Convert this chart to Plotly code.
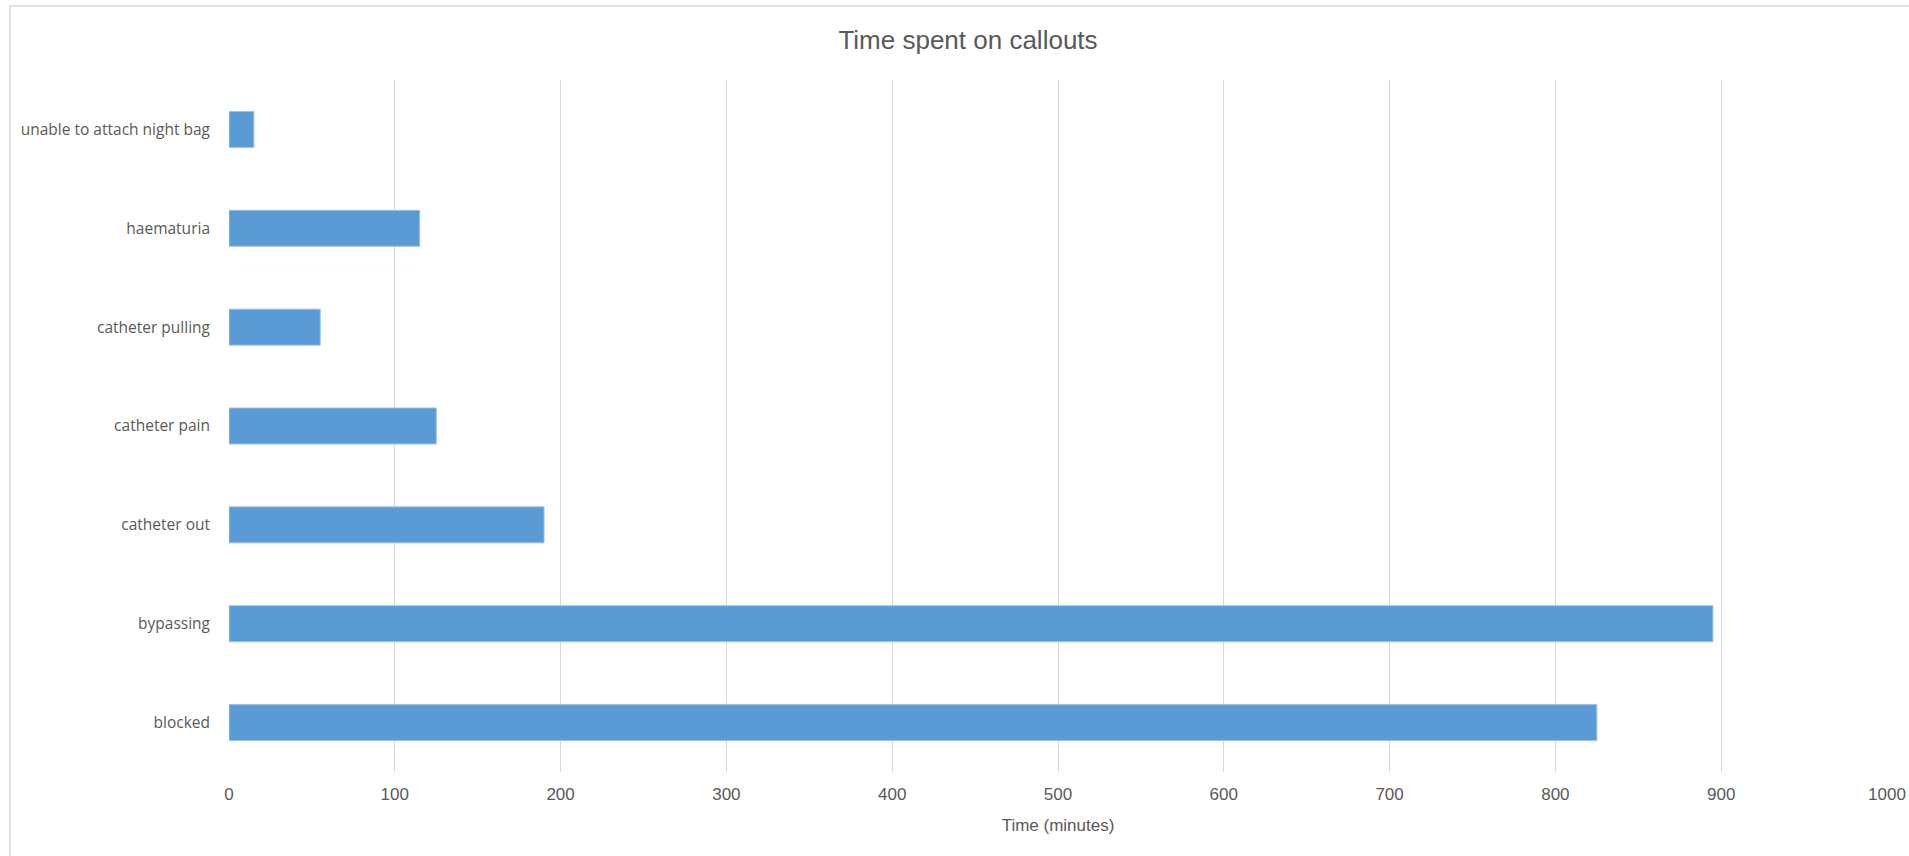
import plotly.graph_objects as go

categories = ["blocked", "bypassing", "catheter out", "catheter pain",
              "catheter pulling", "haematuria", "unable to attach night bag"]
minutes = [825, 895, 190, 125, 55, 115, 15]
x_ticks = [0, 100, 200, 300, 400, 500, 600, 700, 800, 900, 1000]

W, H = 1909, 856
L, R, T, B = 229, 22, 80, 84
pw, ph = W - L - R, H - T - B

NARROW = "Liberation Sans Narrow, Arial Narrow, Liberation Sans, sans-serif"

fig = go.Figure()
fig.add_trace(go.Bar(
    y=categories, x=minutes, orientation="h",
    marker=dict(color="#5b9bd5", line=dict(color="#9cc2e5", width=1)),
    hoverinfo="x+y",
))

fig.update_layout(
    width=W, height=H,
    margin=dict(l=L, r=R, t=T, b=B, autoexpand=False),
    paper_bgcolor="white", plot_bgcolor="white",
    bargap=0.636,
    showlegend=False,
    title=dict(text="Time spent on callouts", x=968 / W, xanchor="center",
               y=1 - 40 / H, yanchor="middle", yref="container",
               font=dict(family=NARROW, size=26, color="#595959")),
    xaxis=dict(range=[0, 1000], tickvals=x_ticks, ticktext=[str(v) for v in x_ticks],
               showgrid=True, gridcolor="#d9d9d9", gridwidth=1, zeroline=False,
               showline=False, ticks="", automargin=False, ticklabelstandoff=10,
               tickfont=dict(family=NARROW, size=17, color="#595959"),
               title=dict(text="Time (minutes)", standoff=16,
                          font=dict(family=NARROW, size=17, color="#595959"))),
    yaxis=dict(showgrid=False, zeroline=False, showline=False, ticks="", automargin=False,
               categoryorder="array", categoryarray=categories,
               tickfont=dict(family="Open Sans, sans-serif", size=15.5, color="#595959"),
               ticklabelstandoff=18),
    font=dict(family="Open Sans, sans-serif", color="#595959"),
)

# chart frame
fig.add_shape(type="rect", xref="paper", yref="paper",
              x0=(10 - L) / pw, x1=(W + 20 - L) / pw,
              y0=-(H + 20 - T - ph) / ph, y1=1 + (T - 6) / ph,
              line=dict(color="#d9d9d9", width=1.5), layer="below")

fig.write_html("out.html")
